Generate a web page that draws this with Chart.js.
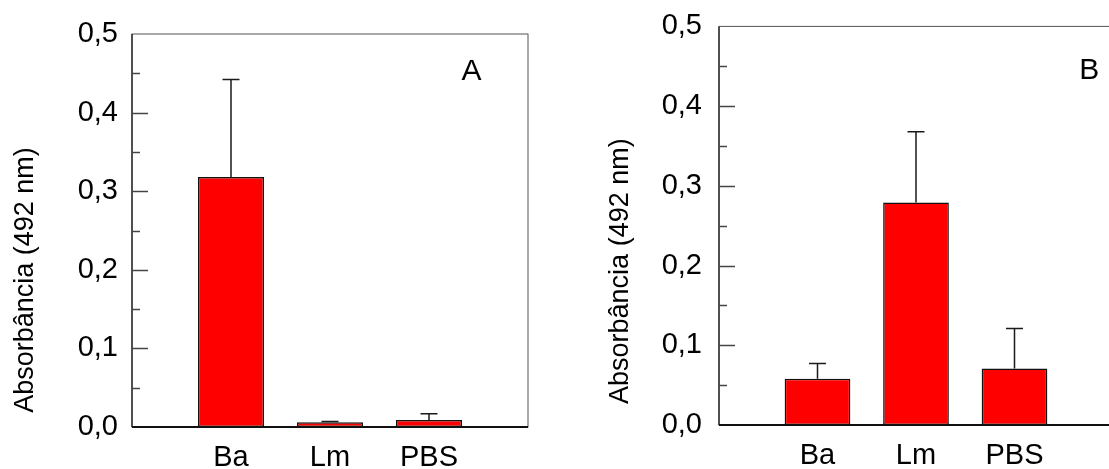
<!DOCTYPE html>
<html>
<head>
<meta charset="utf-8">
<script src="https://cdn.jsdelivr.net/npm/chart.js@4.4.0/dist/chart.umd.min.js"></script>
<style>
html, body { margin: 0; padding: 0; background: #fff; overflow: hidden; }
#wrap { position: relative; width: 1109px; height: 469px; overflow: hidden; }
#chartA { position: absolute; left: 0; top: 0; }
#chartB { position: absolute; left: 600px; top: 0; }
</style>
</head>
<body>
<div id="wrap">
  <canvas id="chartA" width="560" height="469"></canvas>
  <canvas id="chartB" width="519" height="469"></canvas>
</div>
<script>
// data
const categories = ['Ba', 'Lm', 'PBS'];
const valuesA = [0.318, 0.006, 0.009];
const errorsA = [0.124, 0.001, 0.008];
const valuesB = [0.058, 0.279, 0.071];
const errorsB = [0.019, 0.089, 0.050];
const yTickLabels = ['0,0', '0,1', '0,2', '0,3', '0,4', '0,5'];
const yTitle = 'Absorbância (492 nm)';

const FONT = 'Liberation Sans, Arial, sans-serif';

// error bars, frame, inward ticks, axis title and panel letter
const decor = {
  id: 'decor',
  afterDatasetsDraw(chart, args, opts) {
    const { ctx, chartArea: a, scales: { x, y } } = chart;
    const ds = chart.data.datasets[0];
    ctx.save();

    ctx.strokeStyle = '#1a1a1a';
    ctx.lineWidth = 1.5;
    opts.errors.forEach((e, i) => {
      const v = ds.data[i + 1];
      const px = x.getPixelForValue(i + 1);
      const y0 = y.getPixelForValue(v);
      const y1 = y.getPixelForValue(v + e);
      ctx.beginPath();
      ctx.moveTo(px, y0);
      ctx.lineTo(px, y1);
      ctx.moveTo(px - 8.5, y1);
      ctx.lineTo(px + 8.5, y1);
      ctx.stroke();
    });

    // frame
    ctx.strokeStyle = '#555';
    ctx.lineWidth = 1;
    ctx.strokeRect(a.left, a.top, a.right - a.left, a.bottom - a.top);
    ctx.strokeStyle = '#333';
    ctx.lineWidth = 1.5;
    ctx.beginPath();
    ctx.moveTo(a.left, a.top);
    ctx.lineTo(a.left, a.bottom);
    ctx.stroke();
    ctx.strokeStyle = '#111';
    ctx.lineWidth = 2;
    ctx.beginPath();
    ctx.moveTo(a.left, a.bottom);
    ctx.lineTo(a.right, a.bottom);
    ctx.stroke();

    // ticks pointing inside
    ctx.strokeStyle = '#444';
    ctx.lineWidth = 1.5;
    y.ticks.forEach((t, i) => {
      if (i === 0 || i === y.ticks.length - 1) return;
      const py = Math.round(y.getPixelForValue(t.value)) + 0.5;
      const len = i % 2 === 0 ? 16 : 8;
      ctx.beginPath();
      ctx.moveTo(a.left, py);
      ctx.lineTo(a.left + len, py);
      ctx.stroke();
    });

    ctx.fillStyle = '#000';
    ctx.textAlign = 'center';
    ctx.textBaseline = 'middle';

    // y axis title
    ctx.save();
    ctx.font = '27px ' + FONT;
    ctx.translate(opts.titleX, y.getPixelForValue(opts.titleAt));
    ctx.rotate(-Math.PI / 2);
    ctx.fillText(yTitle, 0, 0);
    ctx.restore();

    ctx.font = '30px ' + FONT;
    ctx.fillText(opts.letter, x.getPixelForValue(opts.letterAt[0]), y.getPixelForValue(opts.letterAt[1]));
    ctx.restore();
  }
};

function makeChart(id, values, errors, letter, letterAt, axisWidth, tickPad, titleX, titleAt, pad) {
  return new Chart(document.getElementById(id), {
    type: 'bar',
    data: {
      labels: ['', ...categories, ''],
      datasets: [{
        data: [null, ...values, null],
        backgroundColor: '#ff0000',
        borderColor: '#111',
        borderWidth: 1.5,
        borderSkipped: false,
        barPercentage: 0.667,
        categoryPercentage: 1
      }]
    },
    options: {
      responsive: false,
      animation: false,
      layout: { padding: pad },
      plugins: {
        legend: { display: false },
        tooltip: { enabled: false },
        decor: { errors, letter, letterAt, titleX, titleAt }
      },
      scales: {
        x: {
          type: 'category',
          offset: false,
          grid: { display: false },
          border: { display: false },
          ticks: {
            color: '#000', font: { family: FONT, size: 29 },
            padding: 6, maxRotation: 0, autoSkip: false
          },
          afterFit: s => { s.height = 42; }
        },
        y: {
          min: 0, max: 0.5,
          grid: { display: false },
          border: { display: false },
          ticks: {
            stepSize: 0.05, autoSkip: false, color: '#000', padding: tickPad,
            font: { family: FONT, size: 29 },
            callback: (v, i) => i % 2 === 0 ? yTickLabels[i / 2] : ''
          },
          afterFit: s => { s.width = axisWidth; }
        }
      }
    },
    plugins: [decor]
  });
}

makeChart('chartA', valuesA, errorsA, 'A', [3.43, 0.452], 132, 6, 26, 0.187, { top: 34, right: 32, bottom: 0, left: 0 });
makeChart('chartB', valuesB, errorsB, 'B', [3.76, 0.445], 119, 9, 21, 0.193, { top: 26, right: 0, bottom: 2, left: 0 });
</script>
</body>
</html>
